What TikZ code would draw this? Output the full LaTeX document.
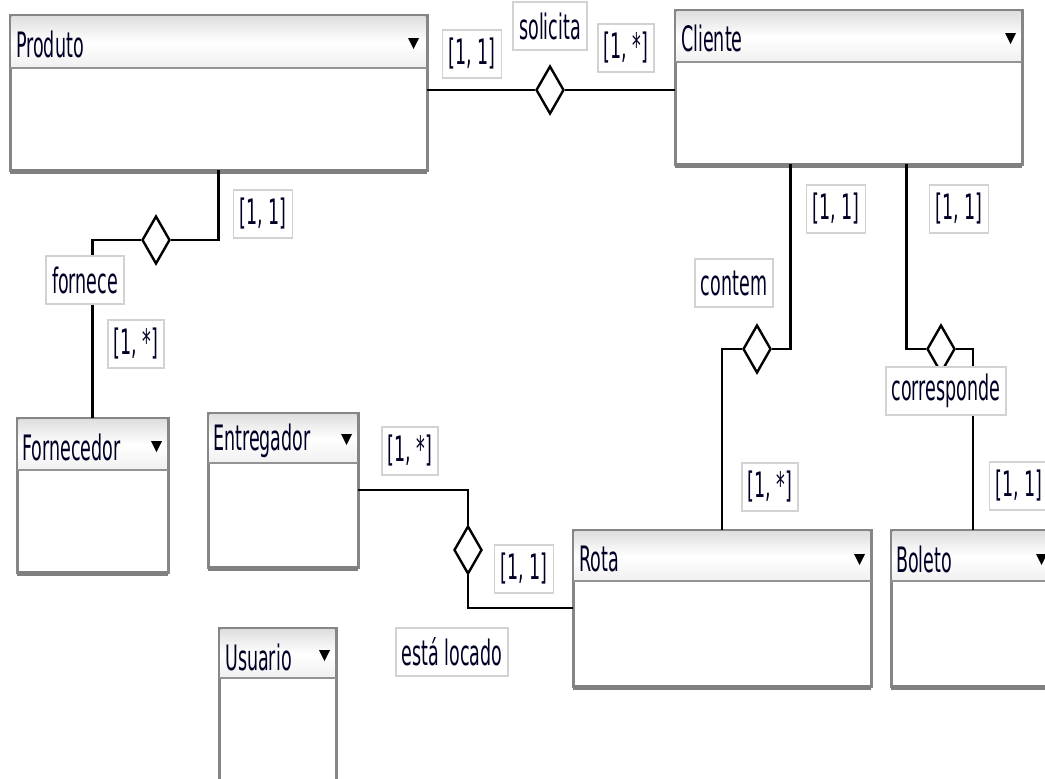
\documentclass[tikz,border=0pt]{standalone}
\usepackage{fontspec}
\setmainfont[FakeStretch=0.5]{DejaVu Sans}
\usetikzlibrary{shapes.geometric,calc}

\tikzset{
  classbox/.style={draw=gray!95, line width=3pt, fill=white, inner sep=0pt, outer sep=0pt, anchor=north west},
  header/.style={top color=gray!25, bottom color=gray!12, middle color=white},
  divider/.style={draw=gray!85, line width=2.5pt},
  shadowline/.style={draw=black!50, line width=5pt},
  classname/.style={anchor=west, inner sep=0pt, text=black!85!blue},
  relline/.style={line width=2.2pt},
  reldiam/.style={diamond, draw, line width=2.4pt, fill=white, inner sep=0pt, minimum width=28pt, minimum height=48pt},
  card/.style={draw=gray!35, line width=1.8pt, fill=white, inner xsep=6pt, inner ysep=0pt, minimum height=48pt, text=black!85!blue},
}

\begin{document}
\begin{tikzpicture}[x=1pt, y=-1pt, font=\fontsize{35}{40}\selectfont]
\useasboundingbox (0,0) rectangle (1045,779);

	\begin{scope} % Produto
		\node[classbox, minimum width=417pt, minimum height=155pt] (produto) at (10,15) {};
		\shade[header] ([shift={(1.5pt,-1.5pt)}]produto.north west) rectangle ([shift={(-1.5pt,-53pt)}]produto.north east);
		\draw[divider] ([yshift=-53pt]produto.north west) -- ([yshift=-53pt]produto.north east);
		\draw[shadowline] ([yshift=-1pt]produto.south west) -- ([yshift=-1pt]produto.south east);
		\node[classname] (produtoname) at ([shift={(6pt,-29pt)}]produto.north west) {Produto};
		\fill ([shift={(-19pt,-23pt)}]produto.north east) -- ++(11pt,0) -- ++(-5.5pt,-11pt) -- cycle;
	\end{scope}

	\begin{scope} % Cliente
		\node[classbox, minimum width=347pt, minimum height=154pt] (cliente) at (675,10) {};
		\shade[header] ([shift={(1.5pt,-1.5pt)}]cliente.north west) rectangle ([shift={(-1.5pt,-52pt)}]cliente.north east);
		\draw[divider] ([yshift=-52pt]cliente.north west) -- ([yshift=-52pt]cliente.north east);
		\draw[shadowline] ([yshift=-1pt]cliente.south west) -- ([yshift=-1pt]cliente.south east);
		\node[classname] (clientename) at ([shift={(6pt,-28pt)}]cliente.north west) {Cliente};
		\fill ([shift={(-17pt,-23pt)}]cliente.north east) -- ++(11pt,0) -- ++(-5.5pt,-11pt) -- cycle;
	\end{scope}

	\begin{scope} % Fornecedor
		\node[classbox, minimum width=151pt, minimum height=154pt] (fornecedor) at (17,418) {};
		\shade[header] ([shift={(1.5pt,-1.5pt)}]fornecedor.north west) rectangle ([shift={(-1.5pt,-52pt)}]fornecedor.north east);
		\draw[divider] ([yshift=-52pt]fornecedor.north west) -- ([yshift=-52pt]fornecedor.north east);
		\draw[shadowline] ([yshift=-1pt]fornecedor.south west) -- ([yshift=-1pt]fornecedor.south east);
		\node[classname] (fornecedorname) at ([shift={(5pt,-29pt)}]fornecedor.north west) {Fornecedor};
		\fill ([shift={(-17pt,-23pt)}]fornecedor.north east) -- ++(11pt,0) -- ++(-5.5pt,-11pt) -- cycle;
	\end{scope}

	\begin{scope} % Entregador
		\node[classbox, minimum width=150pt, minimum height=154pt] (entregador) at (208,413) {};
		\shade[header] ([shift={(1.5pt,-1.5pt)}]entregador.north west) rectangle ([shift={(-1.5pt,-50pt)}]entregador.north east);
		\draw[divider] ([yshift=-50pt]entregador.north west) -- ([yshift=-50pt]entregador.north east);
		\draw[shadowline] ([yshift=-1pt]entregador.south west) -- ([yshift=-1pt]entregador.south east);
		\node[classname] (entregadorname) at ([shift={(5pt,-28pt)}]entregador.north west) {Entregador};
		\fill ([shift={(-17pt,-21pt)}]entregador.north east) -- ++(11pt,0) -- ++(-5.5pt,-11pt) -- cycle;
	\end{scope}

	\begin{scope} % Usuario
		\node[classbox, minimum width=117pt, minimum height=155pt] (usuario) at (219,628) {};
		\shade[header] ([shift={(1.5pt,-1.5pt)}]usuario.north west) rectangle ([shift={(-1.5pt,-50pt)}]usuario.north east);
		\draw[divider] ([yshift=-50pt]usuario.north west) -- ([yshift=-50pt]usuario.north east);
		\node[classname] (usuarioname) at ([shift={(6pt,-29pt)}]usuario.north west) {Usuario};
		\fill ([shift={(-17pt,-22pt)}]usuario.north east) -- ++(11pt,0) -- ++(-5.5pt,-11pt) -- cycle;
	\end{scope}

	\begin{scope} % Rota
		\node[classbox, minimum width=298pt, minimum height=156pt] (rota) at (573,530) {};
		\shade[header] ([shift={(1.5pt,-1.5pt)}]rota.north west) rectangle ([shift={(-1.5pt,-51pt)}]rota.north east);
		\draw[divider] ([yshift=-51pt]rota.north west) -- ([yshift=-51pt]rota.north east);
		\draw[shadowline] ([yshift=-1pt]rota.south west) -- ([yshift=-1pt]rota.south east);
		\node[classname] (rotaname) at ([shift={(6pt,-29pt)}]rota.north west) {Rota};
		\fill ([shift={(-17pt,-24pt)}]rota.north east) -- ++(11pt,0) -- ++(-5.5pt,-11pt) -- cycle;
	\end{scope}

	\begin{scope} % Boleto
		\node[classbox, minimum width=164pt, minimum height=156pt] (boleto) at (891,530) {};
		\shade[header] ([shift={(1.5pt,-1.5pt)}]boleto.north west) rectangle ([shift={(-1.5pt,-51pt)}]boleto.north east);
		\draw[divider] ([yshift=-51pt]boleto.north west) -- ([yshift=-51pt]boleto.north east);
		\draw[shadowline] ([yshift=-1pt]boleto.south west) -- ([yshift=-1pt]boleto.south east);
		\node[classname] (boletoname) at ([shift={(5pt,-29pt)}]boleto.north west) {Boleto};
		\fill ([shift={(-19pt,-24pt)}]boleto.north east) -- ++(11pt,0) -- ++(-5.5pt,-11pt) -- cycle;
	\end{scope}

	\begin{scope} % Relationship diamonds
		\node[reldiam] (solicitad) at (550,90) {};
		\node[reldiam] (forneced) at (156,240) {};
		\node[reldiam] (locadod) at (468,550) {};
		\node[reldiam] (contemd) at (757,349) {};
		\node[reldiam] (corresponded) at (941,349) {};
	\end{scope}

	\begin{scope} % Connectors
		\draw[relline] (solicitad.west) -- (solicitad.west -| produto.east);
		\draw[relline] (solicitad.east) -- (solicitad.east -| cliente.west);
		\draw[relline] (forneced.east) -| (produto.south);
		\draw[relline] (forneced.west) -| (fornecedor.north);
		\draw[relline] (entregador.east) -| (locadod.north);
		\draw[relline] (locadod.south) |- (rota.west);
		\coordinate (clienteA) at ($(cliente.south west)!0.333!(cliente.south east)$);
		\coordinate (clienteB) at ($(cliente.south west)!0.667!(cliente.south east)$);
		\draw[relline] (clienteA) |- (contemd.east);
		\draw[relline] (contemd.west) -| (rota.north);
		\draw[relline] (clienteB) |- (corresponded.west);
		\draw[relline] (corresponded.east) -| (boleto.north);
	\end{scope}

	\begin{scope} % Names and cardinalities
		\node[card] (solicita) at (550,26) {solicita};
		\node[card] (solicitaA) at (472,54) {[1, 1]};
		\node[card] (solicitaB) at (626,48) {[1, *]};
		\node[card] (fornece) at (85,280) {fornece};
		\node[card] (forneceA) at (263,214) {[1, 1]};
		\node[card] (forneceB) at (136,344) {[1, *]};
		\node[card] (locado) at (452,652) {está locado};
		\node[card] (locadoA) at (410,451) {[1, *]};
		\node[card] (locadoB) at (524,569) {[1, 1]};
		\node[card] (contem) at (734,283) {contem};
		\node[card] (contemA) at (836,209) {[1, 1]};
		\node[card] (contemB) at (770,487) {[1, *]};
		\node[card] (corresponde) at (946,391) {corresponde};
		\node[card] (correspondeA) at (959,209) {[1, 1]};
		\node[card] (correspondeB) at (1019,486) {[1, 1]};
	\end{scope}
\end{tikzpicture}
\end{document}
